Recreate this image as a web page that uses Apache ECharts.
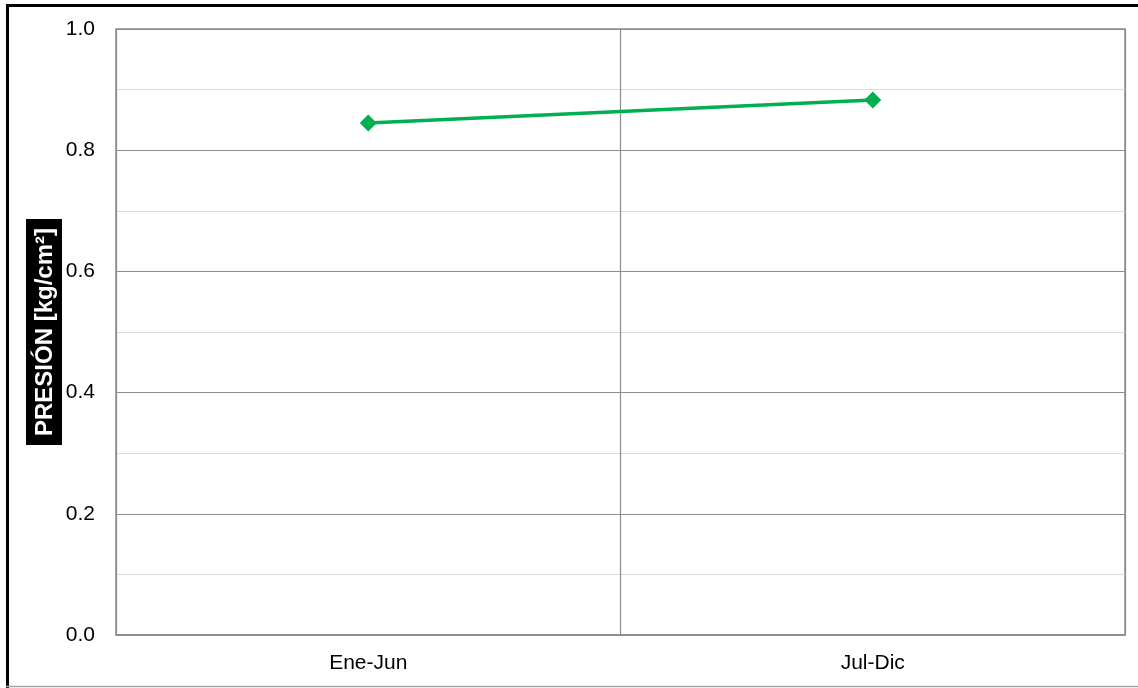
<!DOCTYPE html>
<html>
<head>
<meta charset="utf-8">
<script src="https://cdn.jsdelivr.net/npm/echarts@6/dist/echarts.min.js"></script>
<style>
  html, body { margin: 0; padding: 0; background: #fff; }
  #chart { width: 1138px; height: 688px; }
</style>
</head>
<body>
<div id="chart"></div>
<script>
var categories = ['Ene-Jun', 'Jul-Dic'];
var presion = [0.845, 0.883];
var yTicks = [0, 0.2, 0.4, 0.6, 0.8, 1.0];

var myChart = echarts.init(document.getElementById('chart'));

var option = {
    animation: false,
    graphic: [{
        // frame: thick black left/top, thin gray bottom
        type: 'polyline',
        shape: { points: [[7.5, 688], [7.5, 5.5], [1138, 5.5]] },
        style: { fill: 'none', stroke: '#000', lineWidth: 3 }
    }, {
        type: 'line',
        shape: { x1: 6, y1: 686.5, x2: 1138, y2: 686.5 },
        style: { stroke: '#a6a6a6', lineWidth: 1.5 }
    }],
    grid: {
        left: 116, right: 13, top: 29, bottom: 53,
        show: true, borderColor: '#8c8c8c', borderWidth: 1.5
    },
    xAxis: {
        type: 'category',
        data: categories,
        boundaryGap: true,
        axisLine: { lineStyle: { color: '#8c8c8c', width: 1.5 } },
        axisTick: { show: false },
        axisLabel: { color: '#000', fontSize: 21, fontFamily: 'Liberation Sans', margin: 18 },
        splitLine: { show: true, lineStyle: { color: '#8c8c8c', width: 1.2 } }
    },
    yAxis: {
        type: 'value',
        min: yTicks[0],
        max: yTicks[yTicks.length - 1],
        interval: 0.2,
        name: 'PRESIÓN [kg/cm²]',
        nameLocation: 'middle',
        nameRotate: 90,
        nameGap: 54,
        nameMoveOverlap: false,
        nameTextStyle: {
            color: '#fff', backgroundColor: '#000', fontWeight: 'bold',
            fontSize: 24, fontFamily: 'Liberation Sans', padding: [7, 9, 5, 9]
        },
        axisLine: { show: false },
        axisTick: { show: false },
        axisLabel: {
            color: '#000', fontSize: 21, fontFamily: 'Liberation Sans', margin: 21,
            formatter: function (v) { return v.toFixed(1); }
        },
        splitLine: { show: true, lineStyle: { color: '#8c8c8c', width: 1.2 } },
        minorTick: { show: false, splitNumber: 2 },
        minorSplitLine: { show: true, lineStyle: { color: '#d9d9d9', width: 1.2 } }
    },
    series: [{
        name: 'Presión',
        type: 'line',
        data: presion,
        symbol: 'diamond',
        symbolSize: 17,
        lineStyle: { color: '#00b050', width: 3.5 },
        itemStyle: { color: '#00b050' }
    }]
};

myChart.setOption(option);
</script>
</body>
</html>
